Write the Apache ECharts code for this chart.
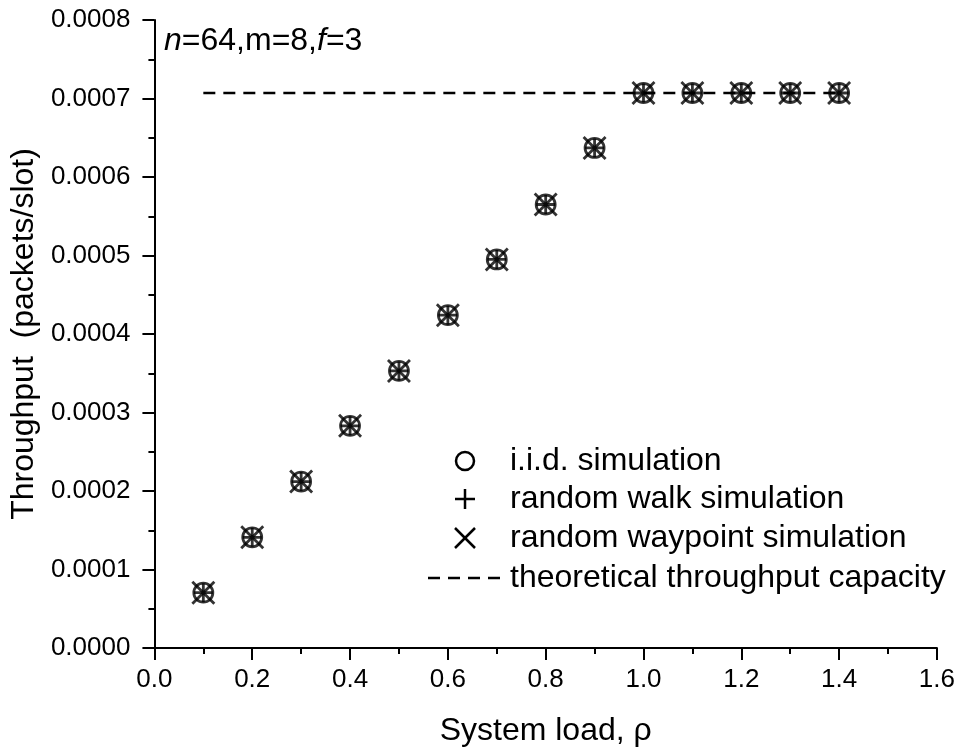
<!DOCTYPE html>
<html>
<head>
<meta charset="utf-8">
<script src="https://cdn.jsdelivr.net/npm/echarts@6/dist/echarts.min.js"></script>
<style>
  html, body { margin: 0; padding: 0; background: #fff; }
  #chart { width: 958px; height: 752px; }
</style>
</head>
<body>
<div id="chart"></div>
<script>
// system load values
const loads = [0.1, 0.2, 0.3, 0.4, 0.5, 0.6, 0.7, 0.8, 0.9, 1.0, 1.1, 1.2, 1.3, 1.4]
// throughput (packets/slot)
const iidSim = [0.0000705, 0.000141, 0.000212, 0.000283, 0.000353, 0.000424, 0.000495, 0.000565, 0.000637, 0.000707, 0.000707, 0.000707, 0.000707, 0.000707]
const walkSim = [0.0000705, 0.000141, 0.000212, 0.000283, 0.000353, 0.000424, 0.000495, 0.000565, 0.000637, 0.000707, 0.000707, 0.000707, 0.000707, 0.000707]
const waypointSim = [0.0000705, 0.000141, 0.000212, 0.000283, 0.000353, 0.000424, 0.000495, 0.000565, 0.000637, 0.000707, 0.000707, 0.000707, 0.000707, 0.000707]
const capacityX = [0.1, 1.4]
const capacityY = [0.000707, 0.000707]

const FONT = 'Liberation Sans'
const PLUS = 'path://M5,0L5,10M0,5L10,5'
const CROSS = 'path://M0,0L10,10M10,0L0,10'

const pairs = (xs, ys) => xs.map((x, i) => [x, ys[i]])

const chart = echarts.init(document.getElementById('chart'))

const markStyle = { color: 'rgba(0,0,0,0)', borderColor: '#000', borderWidth: 2.8 }
const legendText = { fontFamily: FONT, fontSize: 32, fill: '#000', verticalAlign: 'middle' }
const stroke = { stroke: '#000', lineWidth: 2.5 }

chart.setOption({
  backgroundColor: '#fff',
  animation: false,
  grid: { left: 152, right: 21, top: 20, bottom: 101 },
  xAxis: {
    type: 'value',
    min: 0, max: 1.6, interval: 0.2,
    name: 'System load, ρ',
    nameLocation: 'middle',
    nameGap: 67,
    nameTextStyle: { fontFamily: FONT, fontSize: 32, color: '#000' },
    axisLine: { onZero: false, lineStyle: { color: '#000', width: 2 } },
    axisTick: { inside: false, length: 12, lineStyle: { color: '#000', width: 2 } },
    minorTick: { show: true, splitNumber: 2, length: 6, lineStyle: { color: '#000', width: 2 } },
    axisLabel: { margin: 19, fontFamily: FONT, fontSize: 26, color: '#000', formatter: v => v.toFixed(1) },
    splitLine: { show: false }
  },
  yAxis: {
    type: 'value',
    min: 0, max: 0.0008, interval: 0.0001,
    name: 'Throughput  (packets/slot)',
    nameLocation: 'middle',
    nameGap: 108,
    nameTextStyle: { fontFamily: FONT, fontSize: 32, color: '#000' },
    axisLine: { show: true, onZero: false, lineStyle: { color: '#000', width: 2 } },
    axisTick: { show: true, inside: false, length: 12, lineStyle: { color: '#000', width: 2 } },
    minorTick: { show: true, splitNumber: 2, length: 6, lineStyle: { color: '#000', width: 2 } },
    axisLabel: { margin: 24, fontFamily: FONT, fontSize: 26, color: '#000', formatter: v => v.toFixed(4) },
    splitLine: { show: false }
  },
  series: [
    {
      name: 'theoretical throughput capacity',
      type: 'line',
      data: pairs(capacityX, capacityY),
      showSymbol: false,
      lineStyle: { color: '#000', width: 2.5, type: [12, 8] },
      z: 1
    },
    {
      name: 'i.i.d. simulation',
      type: 'scatter',
      data: pairs(loads, iidSim),
      symbol: 'circle',
      symbolSize: 19,
      itemStyle: markStyle,
      z: 3
    },
    {
      name: 'random walk simulation',
      type: 'scatter',
      data: pairs(loads, walkSim),
      symbol: PLUS,
      symbolSize: 19,
      itemStyle: markStyle,
      z: 3
    },
    {
      name: 'random waypoint simulation',
      type: 'scatter',
      data: pairs(loads, waypointSim),
      symbol: CROSS,
      symbolSize: 22,
      itemStyle: markStyle,
      z: 3
    }
  ],
  graphic: [
    // parameter note
    {
      type: 'text', x: 164, y: 41,
      style: {
        text: '{i|n}=64,m=8,{i|f}=3',
        fontFamily: FONT, fontSize: 32, fill: '#000', verticalAlign: 'middle',
        rich: { i: { fontStyle: 'italic', fontFamily: FONT, fontSize: 32 } }
      }
    },
    // legend
    { type: 'circle', shape: { cx: 465, cy: 461, r: 9 }, style: { fill: 'none', stroke: '#000', lineWidth: 2.5 } },
    { type: 'polyline', shape: { points: [[455, 499], [475, 499]] }, style: stroke },
    { type: 'polyline', shape: { points: [[465, 489], [465, 509]] }, style: stroke },
    { type: 'polyline', shape: { points: [[455, 528], [475, 548]] }, style: stroke },
    { type: 'polyline', shape: { points: [[475, 528], [455, 548]] }, style: stroke },
    { type: 'polyline', shape: { points: [[428, 578], [504, 578]] }, style: { stroke: '#000', lineWidth: 2.5, lineDash: [12, 8] } },
    { type: 'text', x: 510, y: 461, style: Object.assign({ text: 'i.i.d. simulation' }, legendText) },
    { type: 'text', x: 510, y: 499, style: Object.assign({ text: 'random walk simulation' }, legendText) },
    { type: 'text', x: 510, y: 538, style: Object.assign({ text: 'random waypoint simulation' }, legendText) },
    { type: 'text', x: 510, y: 578, style: Object.assign({ text: 'theoretical throughput capacity' }, legendText) }
  ]
})
</script>
</body>
</html>
